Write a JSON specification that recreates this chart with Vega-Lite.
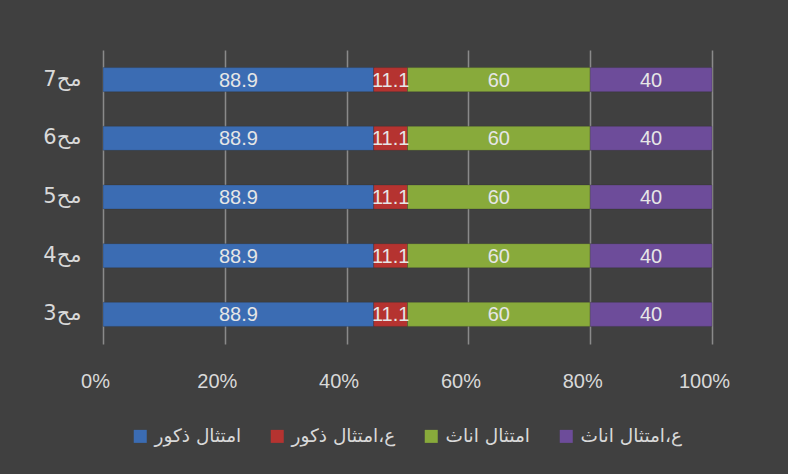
{
  "$schema": "https://vega.github.io/schema/vega-lite/v6.json",
  "autosize": {"type": "none"},
  "width": 609,
  "height": 294,
  "padding": {"left": 103, "top": 50, "right": 76, "bottom": 130},
  "background": "#404040",
  "config": {
    "view": {"stroke": null},
    "font": "Liberation Sans",
    "text": {"font": "Liberation Sans"}
  },
  "data": {
    "values": [
      {"cat": "مح3", "series": "امتثال ذكور", "k": 1, "value": 88.9},
      {"cat": "مح3", "series": "ع،امتثال ذكور", "k": 2, "value": 11.1},
      {"cat": "مح3", "series": "امتثال اناث", "k": 3, "value": 60},
      {"cat": "مح3", "series": "ع،امتثال اناث", "k": 4, "value": 40},
      {"cat": "مح4", "series": "امتثال ذكور", "k": 1, "value": 88.9},
      {"cat": "مح4", "series": "ع،امتثال ذكور", "k": 2, "value": 11.1},
      {"cat": "مح4", "series": "امتثال اناث", "k": 3, "value": 60},
      {"cat": "مح4", "series": "ع،امتثال اناث", "k": 4, "value": 40},
      {"cat": "مح5", "series": "امتثال ذكور", "k": 1, "value": 88.9},
      {"cat": "مح5", "series": "ع،امتثال ذكور", "k": 2, "value": 11.1},
      {"cat": "مح5", "series": "امتثال اناث", "k": 3, "value": 60},
      {"cat": "مح5", "series": "ع،امتثال اناث", "k": 4, "value": 40},
      {"cat": "مح6", "series": "امتثال ذكور", "k": 1, "value": 88.9},
      {"cat": "مح6", "series": "ع،امتثال ذكور", "k": 2, "value": 11.1},
      {"cat": "مح6", "series": "امتثال اناث", "k": 3, "value": 60},
      {"cat": "مح6", "series": "ع،امتثال اناث", "k": 4, "value": 40},
      {"cat": "مح7", "series": "امتثال ذكور", "k": 1, "value": 88.9},
      {"cat": "مح7", "series": "ع،امتثال ذكور", "k": 2, "value": 11.1},
      {"cat": "مح7", "series": "امتثال اناث", "k": 3, "value": 60},
      {"cat": "مح7", "series": "ع،امتثال اناث", "k": 4, "value": 40}
    ]
  },
  "transform": [
    {"stack": "value", "groupby": ["cat"], "sort": [{"field": "k", "order": "ascending"}], "offset": "normalize", "as": ["x0", "x1"]},
    {"calculate": "(datum.x0 + datum.x1) / 2", "as": "mid"}
  ],
  "encoding": {
    "y": {
      "field": "cat",
      "type": "nominal",
      "sort": "descending",
      "scale": {"paddingInner": 0.59, "paddingOuter": 0.3},
      "axis": {
        "title": null,
        "domain": false,
        "ticks": false,
        "labelFontSize": 21,
        "labelColor": "#d9d9d9",
        "labelPadding": 22,
        "labelFont": "DejaVu Sans"
      }
    }
  },
  "layer": [
    {
      "mark": {"type": "bar", "stroke": "#2b2b2b", "strokeWidth": 0.5, "strokeOpacity": 0.5},
      "encoding": {
        "x": {
          "field": "x0",
          "type": "quantitative",
          "scale": {"domain": [0, 1], "nice": false},
          "axis": {
            "title": null,
            "format": "%",
            "values": [0, 0.2, 0.4, 0.6, 0.8, 1],
            "domain": false,
            "ticks": false,
            "grid": true,
            "gridColor": "#8a8a8a",
            "gridWidth": 1.5,
            "labelFontSize": 20,
            "labelColor": "#d9d9d9",
            "labelPadding": 27,
            "labelOffset": -8,
            "labelFlush": false
          }
        },
        "x2": {"field": "x1"},
        "color": {
          "field": "series",
          "type": "nominal",
          "sort": ["امتثال ذكور", "ع،امتثال ذكور", "امتثال اناث", "ع،امتثال اناث"],
          "scale": {
            "domain": ["امتثال ذكور", "ع،امتثال ذكور", "امتثال اناث", "ع،امتثال اناث"],
            "range": ["#3b6cb3", "#b53330", "#88aa3b", "#6d4c9a"]
          },
          "legend": {
            "title": null,
            "orient": "none",
            "direction": "horizontal",
            "legendX": 28,
            "legendY": 377,
            "symbolType": "square",
            "symbolSize": 169,
            "symbolStrokeWidth": 0,
            "labelFontSize": 18.5,
            "labelColor": "#d9d9d9",
            "labelFont": "DejaVu Sans",
            "labelOffset": 5,
            "columnPadding": 26,
            "labelLimit": 300
          }
        }
      }
    },
    {
      "mark": {"type": "text", "fontSize": 20, "color": "#e6e6e6", "baseline": "middle", "dy": 1},
      "encoding": {
        "x": {"field": "mid", "type": "quantitative"},
        "text": {"field": "value", "type": "quantitative", "format": "~g"}
      }
    }
  ]
}
